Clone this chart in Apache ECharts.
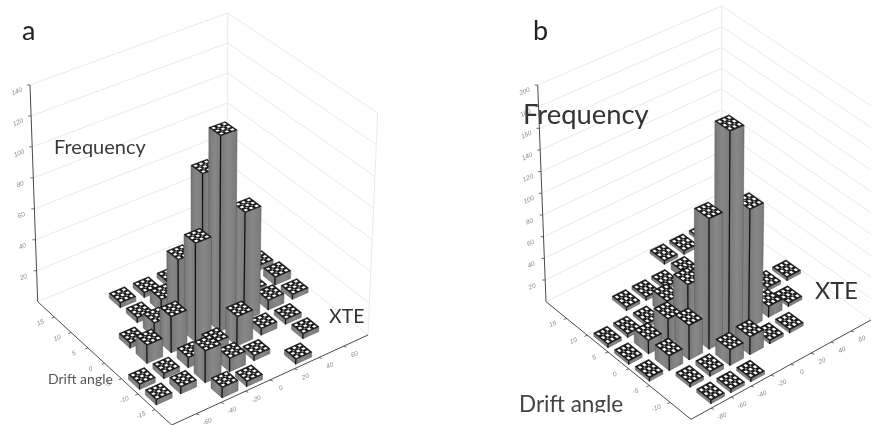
<!DOCTYPE html>
<html>
<head>
<meta charset="utf-8">
<style>
html,body{margin:0;padding:0;background:#fff;}
#chart{width:871px;height:425px;filter:blur(0.6px);}
</style>
<script src="https://cdn.jsdelivr.net/npm/echarts@6/dist/echarts.min.js"></script>
</head>
<body>
<div id="chart"></div>
<script>
// ---------- Data (bin indexes count from the front corner) ----------
var freqTicksA = [20, 40, 60, 80, 100, 120, 140];
var xteLabelsA = ['-60', '-40', '-20', '0', '20', '40', '60'];
var driftLabelsA = ['-15', '-10', '-5', '0', '5', '10', '15'];
var xteBinA   = [0,0,1,1,2,3,2,3,3,2,4,5,6,6,5,4,2,1,1,2,2,2,3,3,4,3,3,4,4,5,6,7,7,7,6];
var driftBinA = [2,1,2,1,0,0,1,2,1,2,1,0,1,2,2,2,3,3,4,4,5,6,6,5,6,4,3,4,3,3,3,3,4,5,4];
var freqA     = [3,3,3,4,6,3,19,8,8,6,3,3,3,3,4,18,22,11,3,9,3,3,3,8,3,42,61,90,122,68,6,3,5,3,3];

var freqTicksB = [20, 40, 60, 80, 100, 120, 140, 160, 180, 200];
var xteLabelsB = ['-80', '-60', '-40', '-20', '0', '20', '40', '60'];
var driftLabelsB = ['-10', '-5', '0', '5', '10', '15'];
var xteBinB   = [0,0,0,1,1,2,3,2,3,4,5,6,7,6,8,7,4,5,3,2,1,2,1,1,2,2,3,4,5,6,7,5,3,3];
var driftBinB = [4,3,2,1,0,0,0,1,1,1,1,1,2,2,3,3,2,2,2,2,2,3,3,4,4,5,5,5,6,6,6,5,4,3];
var freqB     = [3,3,3,3,3,3,3,4,14,16,3,3,3,10,3,3,191,110,119,31,13,22,12,3,3,3,3,3,3,3,3,6,14,44];

// ---------- Box geometry of each panel ----------
var boxA = {
  F:[171.7,425], R:[368,335], L:[37.7,301.7], B:[227.7,223],
  Ft:[170,182], Rt:[377.7,113], Lt:[30,85], Bt:[227.7,13],
  nx:8, ny:8, zMax:140, w:0.65, fs:6.5
};
var boxB = {
  F:[691,419.3], R:[871,320], L:[546,301.7], B:[721.7,213.3],
  Ft:[690,190], Rt:[880,112], Lt:[537.7,85], Bt:[721.7,6],
  nx:9, ny:7, zMax:200, w:0.68, fs:6.5
};

function project(box, s, t, z) {
  var o = [];
  for (var k = 0; k < 2; k++) {
    var lo = (1-s)*(1-t)*box.F[k] + s*(1-t)*box.R[k] + (1-s)*t*box.L[k] + s*t*box.B[k];
    var hi = (1-s)*(1-t)*box.Ft[k] + s*(1-t)*box.Rt[k] + (1-s)*t*box.Lt[k] + s*t*box.Bt[k];
    o.push(lo + (hi - lo) * z);
  }
  return o;
}
function line(a, b, color, width) {
  return {type:'line', shape:{x1:a[0],y1:a[1],x2:b[0],y2:b[1]}, style:{stroke:color,lineWidth:width,fill:null}, silent:true};
}
function label(text, x, y, box) {
  return {type:'text', x:x, y:y, rotation:0.42,
    style:{text:text, x:0, y:0, fill:'#8a8a8a', fontSize:box.fs, fontStyle:'italic', fontFamily:'Liberation Sans', align:'center', verticalAlign:'middle'}, silent:true};
}

// Walls, axes and tick labels
function frameSeries(box, freqTicks, xteLabels, driftLabels) {
  return {
    type:'custom', coordinateSystem:'none', silent:true, z:1,
    data:[[0]],
    renderItem:function () {
      var kids = [], wall = '#e6e6e6', dark = '#4a4a4a';
      freqTicks.forEach(function (v) {
        var z = v / box.zMax;
        var a = project(box,0,1,z), b = project(box,1,1,z), c = project(box,1,0,z);
        kids.push(line(a,b,wall,0.9), line(b,c,wall,0.9), line(a,[a[0]-3,a[1]],dark,0.8));
        kids.push(label(String(v), a[0]-13, a[1]+6.5, box));
      });
      var L=project(box,0,1,0), Lt=project(box,0,1,1), B=project(box,1,1,0), Bt=project(box,1,1,1),
          R=project(box,1,0,0), Rt=project(box,1,0,1), F=project(box,0,0,0);
      kids.push(line(B,Bt,wall,0.9), line(R,Rt,wall,0.9), line(L,B,wall,0.9), line(B,R,wall,0.9));
      kids.push(line(L,Lt,dark,1), line(L,F,dark,1), line(F,R,dark,1));
      driftLabels.forEach(function (txt, i) {
        var p = project(box,0,(i+1)/box.ny,0);
        kids.push(line(p,[p[0]-3,p[1]+1],dark,0.8));
        kids.push(label(txt, p[0]-14, p[1]+5.5, box));
      });
      xteLabels.forEach(function (txt, i) {
        var p = project(box,(i+1)/box.nx,0,0);
        kids.push(line(p,[p[0]+3,p[1]+1],dark,0.8));
        kids.push(label(txt, p[0]+11, p[1]+8, box));
      });
      return {type:'group', children:kids};
    }
  };
}

// 3D bars
function barSeries(box, xs, ys, fs) {
  var data = xs.map(function (x, i) { return [x, ys[i], fs[i]]; })
    .sort(function (a, b) { return (b[0] + b[1]) - (a[0] + a[1]); });
  var side = {type:'linear',x:0,y:0,x2:1,y2:0,colorStops:[{offset:0,color:'#757575'},{offset:0.5,color:'#888888'},{offset:1,color:'#797979'}]};
  return {
    type:'custom', coordinateSystem:'none', silent:true, z:2,
    data:data,
    renderItem:function (params, api) {
      var ix = api.value(0), iy = api.value(1), z = api.value(2) / box.zMax;
      var hs = box.w / 2 / box.nx, ht = box.w / 2 / box.ny;
      var s = (ix + 0.5) / box.nx, t = (iy + 0.5) / box.ny;
      var P = function (ds, dt, zz) { return project(box, s + ds*hs, t + dt*ht, zz); };
      var near0=P(-1,-1,0), right0=P(1,-1,0), left0=P(-1,1,0);
      var near=P(-1,-1,z), right=P(1,-1,z), left=P(-1,1,z), far=P(1,1,z);
      var kids = [];
      kids.push({type:'polygon', shape:{points:[left,near,near0,left0]}, style:{fill:side,stroke:'#555',lineWidth:0.5}});
      kids.push({type:'polygon', shape:{points:[near,right,right0,near0]}, style:{fill:side,stroke:'#555',lineWidth:0.5}});
      kids.push(line(near,near0,'#111',1.2));
      kids.push({type:'polygon', shape:{points:[near,right,far,left]}, style:{fill:'#1c1c1c',stroke:'#111',lineWidth:0.6}});
      var dots = [[-0.66,-0.66],[0,-0.66],[0.66,-0.66],[-0.66,0],[0,0],[0.66,0],[-0.66,0.66],[0,0.66],[0.66,0.66],[-0.33,-0.33],[0.33,-0.33],[-0.33,0.33],[0.33,0.33]];
      dots.forEach(function (d, k) {
        var r = k < 9 ? 0.17 : 0.11;
        var pts = [P(d[0]-r,d[1]-r,z),P(d[0]+r,d[1]-r,z),P(d[0]+r,d[1]+r,z),P(d[0]-r,d[1]+r,z)];
        kids.push({type:'polygon', shape:{points:pts}, style:{fill:k<9?'#ffffff':'#9a9a9a'}});
      });
      return {type:'group', children:kids};
    }
  };
}

function txt(text, x, y, size, color) {
  return {type:'text', x:x, y:y, z:20, silent:true,
    style:{text:text, fontFamily:'Lato', fontSize:size, fill:color, textAlign:'left', textVerticalAlign:'middle', verticalAlign:'middle'}};
}

var chart = echarts.init(document.getElementById('chart'), null, {renderer:'canvas', width:871, height:425});
chart.setOption({
  animation:false,
  backgroundColor:'#ffffff',
  series:[
    frameSeries(boxA, freqTicksA, xteLabelsA, driftLabelsA),
    barSeries(boxA, xteBinA, driftBinA, freqA),
    frameSeries(boxB, freqTicksB, xteLabelsB, driftLabelsB),
    barSeries(boxB, xteBinB, driftBinB, freqB)
  ],
  graphic:{elements:[
    txt('a', 22, 31, 27, '#222'),
    txt('b', 533, 31, 27, '#222'),
    txt('Frequency', 54, 148, 20, '#3a3a3a'),
    txt('Frequency', 523, 115, 27.4, '#333'),
    txt('XTE', 329, 317, 19.5, '#333'),
    txt('XTE', 815, 291, 23.5, '#333'),
    txt('Drift angle', 48, 379, 14, '#555'),
    txt('Drift angle', 519, 405, 22.5, '#444'),
    {type:'rect', z:21, silent:true, shape:{x:505,y:412.5,width:140,height:13}, style:{fill:'#fff'}}
  ]}
});
</script>
</body>
</html>
